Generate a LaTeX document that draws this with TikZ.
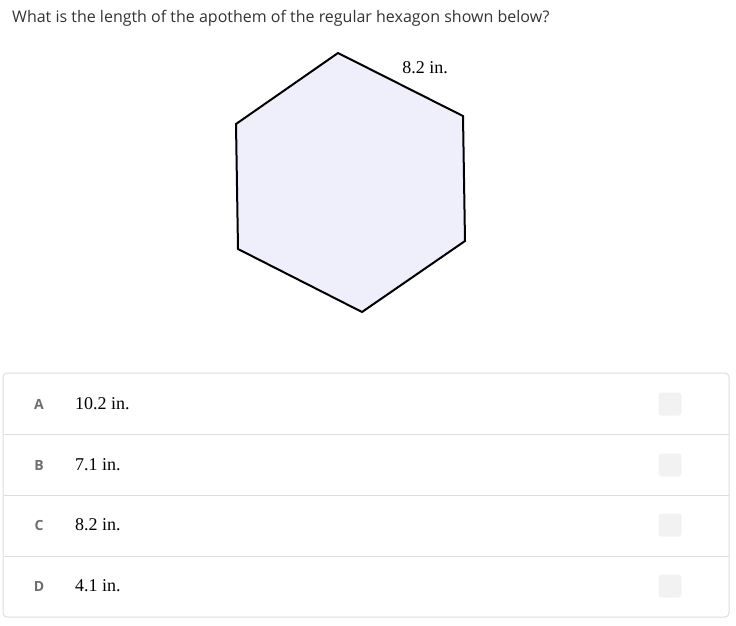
\documentclass[tikz,border=0pt]{standalone}
\usepackage{fontspec}
\setmainfont{Liberation Serif}
\newfontfamily\qfont{Open Sans}
\usetikzlibrary{positioning}
\definecolor{hexfill}{RGB}{239,239,252}
\definecolor{qtext}{RGB}{51,51,51}
\definecolor{lettergray}{RGB}{110,110,110}
\definecolor{rulegray}{RGB}{221,221,221}
\definecolor{boxgray}{RGB}{242,242,242}
\tikzset{
	answer/.style={anchor=west, inner sep=0pt, font=\fontsize{18}{20}\selectfont},
	letter/.style={anchor=center, inner sep=0pt, text=lettergray, font=\qfont\bfseries\fontsize{14}{16}\selectfont},
	tickbox/.style={fill=boxgray, rounded corners=3pt, minimum size=23pt, inner sep=0pt}
}

\begin{document}
\begin{tikzpicture}[x=1pt, y=-1pt]
			%%%%% START %%%%%
			\useasboundingbox (0, 0) rectangle (736, 625);
			
			\node[anchor=base west, inner sep=0pt, text=qtext, font=\qfont\fontsize{16}{19}\selectfont] (question) at (12, 22) {What is the length of the apothem of the regular hexagon shown below?};
			
			\draw[line width=2pt, fill=hexfill, line join=miter] (338, 53) -- (463, 116) -- (465, 241) -- (362, 312) -- (238, 249) -- (236, 124) -- cycle;
			\node[anchor=center, inner sep=0pt, font=\fontsize{18}{20}\selectfont] (side) at (425, 68) {8.2 in.};
			
			\draw[rulegray, line width=1pt, rounded corners=4pt] (3, 373) rectangle (729, 617);
			\draw[rulegray, line width=1pt] (3, 434) -- (729, 434);
			\draw[rulegray, line width=1pt] (3, 495) -- (729, 495);
			\draw[rulegray, line width=1pt] (3, 556) -- (729, 556);
			
			\foreach \y/\l/\t in {404/A/10.2 in., 465/B/7.1 in., 525/C/8.2 in., 586/D/4.1 in.}{
				\node[letter] (letter\l) at (39, \y) {\l};
				\node[answer] (answer\l) at (75, \y) {\t};
				\node[tickbox] (box\l) at (670, \y) {};
			}
			
			%%%%% END %%%%%
\end{tikzpicture}
\end{document}
